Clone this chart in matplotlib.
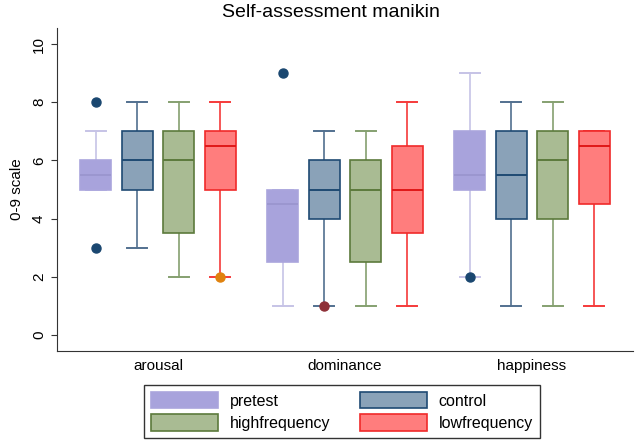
import matplotlib
matplotlib.use("Agg")
import matplotlib.pyplot as plt
from matplotlib.patches import Patch

plt.rcParams['font.family'] = ['Liberation Sans', 'DejaVu Sans']

# ---- data ----
categories = ["arousal", "dominance", "happiness"]
groups = ["pretest", "control", "highfrequency", "lowfrequency"]

# per group: values for arousal, dominance, happiness
q1 = {
    "pretest":       [5.0, 2.5, 5.0],
    "control":       [5.0, 4.0, 4.0],
    "highfrequency": [3.5, 2.5, 4.0],
    "lowfrequency":  [5.0, 3.5, 4.5],
}
med = {
    "pretest":       [5.5, 4.5, 5.5],
    "control":       [6.0, 5.0, 5.5],
    "highfrequency": [6.0, 5.0, 6.0],
    "lowfrequency":  [6.5, 5.0, 6.5],
}
q3 = {
    "pretest":       [6.0, 5.0, 7.0],
    "control":       [7.0, 6.0, 7.0],
    "highfrequency": [7.0, 6.0, 7.0],
    "lowfrequency":  [7.0, 6.5, 7.0],
}
whislo = {
    "pretest":       [5.0, 1.0, 2.0],
    "control":       [3.0, 1.0, 1.0],
    "highfrequency": [2.0, 1.0, 1.0],
    "lowfrequency":  [2.0, 1.0, 1.0],
}
whishi = {
    "pretest":       [7.0, 5.0, 9.0],
    "control":       [8.0, 7.0, 8.0],
    "highfrequency": [8.0, 7.0, 8.0],
    "lowfrequency":  [8.0, 8.0, 7.0],
}
outliers = {
    "pretest":       [[8.0, 3.0], [9.0], [2.0]],
    "control":       [[], [1.0], []],
    "highfrequency": [[], [], []],
    "lowfrequency":  [[2.0], [], []],
}

# ---- styles ----
face = {"pretest": "#a8a3dc", "control": "#8aa2b8",
        "highfrequency": "#a9bb93", "lowfrequency": "#ff7d7d"}
edge = {"pretest": "#aaa5dd", "control": "#1f4a73",
        "highfrequency": "#5c7a3c", "lowfrequency": "#f02a2a"}
medc = {"pretest": "#9b96cf", "control": "#1f4a73",
        "highfrequency": "#5c7a3c", "lowfrequency": "#e01818"}
whisc = {"pretest": "#c6c3e6", "control": "#52708f",
         "highfrequency": "#85a070", "lowfrequency": "#f53a3a"}
outc = {"pretest": "#1a4770", "control": "#8e3038",
        "highfrequency": "#2e6b2e", "lowfrequency": "#e0820e"}

fig = plt.figure(figsize=(6.38, 4.42), dpi=100)
ax = fig.add_axes([57/638, 1 - 351/442, (633-57)/638, (351-28)/442])

group_gap = 4.5
for i, g in enumerate(groups):
    stats = []
    pos = []
    for c in range(len(categories)):
        stats.append(dict(q1=q1[g][c], med=med[g][c], q3=q3[g][c],
                          whislo=whislo[g][c], whishi=whishi[g][c],
                          fliers=outliers[g][c], label=""))
        pos.append(c * group_gap + (i - 1.5))
    bp = ax.bxp(stats, positions=pos, widths=0.75, patch_artist=True,
                showfliers=True, manage_ticks=False,
                boxprops=dict(facecolor=face[g], edgecolor=edge[g], linewidth=1.2),
                medianprops=dict(color=medc[g], linewidth=1.4),
                whiskerprops=dict(color=whisc[g], linewidth=1.2),
                capprops=dict(color=whisc[g], linewidth=1.4),
                capwidths=0.48,
                flierprops=dict(marker='o', markerfacecolor=outc[g],
                                markeredgecolor=outc[g], markersize=6.5))
    for b in bp['boxes']:
        b.set_zorder(3)
    for m in bp['medians']:
        m.set_zorder(4)

ax.set_xlim(-2.43, 2 * group_gap + 2.43)
ax.set_ylim(-0.55, 10.55)
ax.set_xticks([c * group_gap for c in range(len(categories))])
ax.set_xticklabels(categories, fontsize=11)
ax.tick_params(axis='x', length=0, pad=6)
ax.set_yticks([0, 2, 4, 6, 8, 10])
ax.set_yticklabels(["0", "2", "4", "6", "8", "10"], rotation=90, va='center', fontsize=11)
ax.tick_params(axis='y', length=4, color='#333333', pad=4)
ax.spines['top'].set_visible(False)
ax.spines['right'].set_visible(False)
ax.spines['left'].set_color('#333333')
ax.spines['bottom'].set_color('#333333')
ax.set_ylabel("0-9 scale", fontsize=11, labelpad=6)
fig.suptitle("Self-assessment manikin", fontsize=14, x=331/638, y=0.99)

handles = [Patch(facecolor=face[g], edgecolor=edge[g], linewidth=1.2, label=g)
           for g in ["pretest", "highfrequency", "control", "lowfrequency"]]
leg = fig.legend(handles=handles, ncol=2, loc='lower center',
                 bbox_to_anchor=(342/638, 4/442), borderaxespad=0,
                 fontsize=11.5,
                 fancybox=False, edgecolor='#333333', framealpha=1,
                 handlelength=4.2, handleheight=1.2, handletextpad=0.7,
                 columnspacing=1.9, borderpad=0.45, labelspacing=0.35)
leg.get_frame().set_linewidth(1.0)

fig.savefig("out.png", dpi=100, facecolor='white')
